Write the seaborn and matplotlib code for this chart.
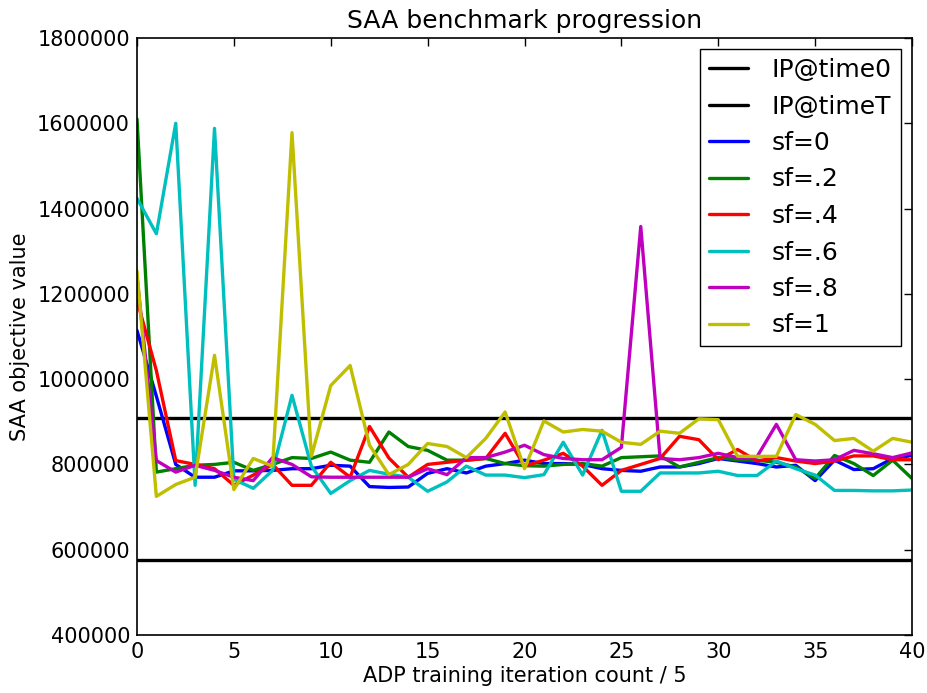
import matplotlib
matplotlib.use("Agg")
import matplotlib.pyplot as plt
import seaborn as sns
import pandas as pd
from matplotlib.ticker import MultipleLocator, ScalarFormatter

iterations = list(range(41))

ip_time0 = 908000
ip_timeT = 576000

sf_0 = [1114000, 960000, 800000, 770000, 770000, 785000, 785000, 786000, 790000, 790000,
        798000, 796000, 748000, 746000, 747000, 779000, 790000, 780000, 796000, 802000,
        810000, 802000, 802000, 800000, 790000, 786000, 784000, 794000, 794000, 802000,
        814000, 808000, 802000, 794000, 798000, 762000, 810000, 788000, 790000, 814000,
        821000]
sf_02 = [1610000, 782000, 790000, 798000, 800000, 805000, 786000, 800000, 816000, 814000,
         829000, 810000, 805000, 876000, 842000, 833000, 810000, 810000, 814000, 802000,
         797000, 796000, 800000, 802000, 796000, 816000, 818000, 820000, 794000, 805000,
         816000, 811000, 810000, 805000, 794000, 767000, 821000, 802000, 774000, 810000,
         767000]
sf_04 = [1185000, 1020000, 809000, 800000, 790000, 751000, 775000, 800000, 751000, 751000,
         805000, 770000, 889000, 815000, 770000, 800000, 805000, 810000, 814000, 873000,
         796000, 810000, 826000, 796000, 751000, 786000, 800000, 814000, 866000, 858000,
         811000, 835000, 808000, 816000, 808000, 802000, 808000, 820000, 820000, 811000,
         811000]
sf_06 = [1424000, 1341000, 1600000, 751000, 1588000, 765000, 744000, 786000, 962000, 796000,
         732000, 762000, 786000, 777000, 770000, 737000, 759000, 796000, 775000, 775000,
         769000, 776000, 852000, 775000, 880000, 737000, 737000, 780000, 780000, 780000,
         784000, 774000, 774000, 808000, 790000, 775000, 739000, 739000, 738000, 738000,
         740000]
sf_08 = [1240000, 809000, 782000, 798000, 786000, 770000, 762000, 816000, 800000, 771000,
         770000, 770000, 770000, 770000, 770000, 790000, 776000, 816000, 816000, 829000,
         845000, 823000, 814000, 811000, 811000, 840000, 1358000, 814000, 811000, 816000,
         826000, 816000, 818000, 894000, 811000, 808000, 811000, 833000, 825000, 816000,
         827000]
sf_1 = [1254000, 725000, 753000, 770000, 1056000, 741000, 814000, 796000, 1578000, 819000,
        985000, 1032000, 845000, 776000, 800000, 849000, 842000, 816000, 861000, 923000,
        790000, 902000, 876000, 882000, 878000, 852000, 847000, 878000, 873000, 907000,
        905000, 819000, 819000, 819000, 917000, 894000, 856000, 861000, 831000, 861000,
        852000]

series_names = ["sf=0", "sf=.2", "sf=.4", "sf=.6", "sf=.8", "sf=1"]
series_values = [sf_0, sf_02, sf_04, sf_06, sf_08, sf_1]
series_colors = [(0, 0, 1), (0, 0.5, 0), (1, 0, 0), (0, 0.75, 0.75), (0.75, 0, 0.75), (0.75, 0.75, 0)]

sns.set_theme(style="white")
plt.rcParams["font.family"] = ["DejaVu Sans"]
plt.rcParams["xtick.direction"] = "in"
plt.rcParams["ytick.direction"] = "in"
plt.rcParams["text.color"] = "black"

fig = plt.figure(figsize=(9.27, 6.93), dpi=100)
ax = fig.add_axes([137 / 927, 1 - 635 / 693, (912 - 137) / 927, (635 - 38) / 693])
ax.set_facecolor("white")

lw = 2.4
ax.axhline(ip_time0, color="black", lw=lw, label="IP@time0")
ax.axhline(ip_timeT, color="black", lw=lw, label="IP@timeT")

for name, vals, col in zip(series_names, series_values, series_colors):
    df = pd.DataFrame({"iteration": iterations, "value": vals})
    sns.lineplot(data=df, x="iteration", y="value", color=col, lw=lw, label=name, ax=ax)

ax.set_xlim(0, 40)
ax.set_ylim(400000, 1800000)
ax.xaxis.set_major_locator(MultipleLocator(5))
ax.yaxis.set_major_locator(MultipleLocator(200000))
fmt = ScalarFormatter(useOffset=False)
fmt.set_scientific(False)
ax.yaxis.set_major_formatter(fmt)

for sp in ax.spines.values():
    sp.set_visible(True)
    sp.set_color("black")
    sp.set_linewidth(1.2)

ax.tick_params(axis="both", which="major", direction="in", length=6, width=1,
               color="black", labelsize=15, top=True, right=True, pad=5,
               labelcolor="black")

ax.set_title("SAA benchmark progression", fontsize=18, color="black", pad=7)
ax.set_xlabel("ADP training iteration count / 5", fontsize=15, color="black", labelpad=3)
ax.set_ylabel("SAA objective value", fontsize=15, color="black", labelpad=5)

leg = ax.legend(loc="upper right", fontsize=18, frameon=True, fancybox=False,
                edgecolor="black", framealpha=1, handlelength=1.56, borderpad=0.35,
                labelspacing=0.5, handletextpad=0.96, borderaxespad=0.45)
leg.get_frame().set_linewidth(1.0)
for t in leg.get_texts():
    t.set_color("black")

fig.savefig("out.png", dpi=100)
